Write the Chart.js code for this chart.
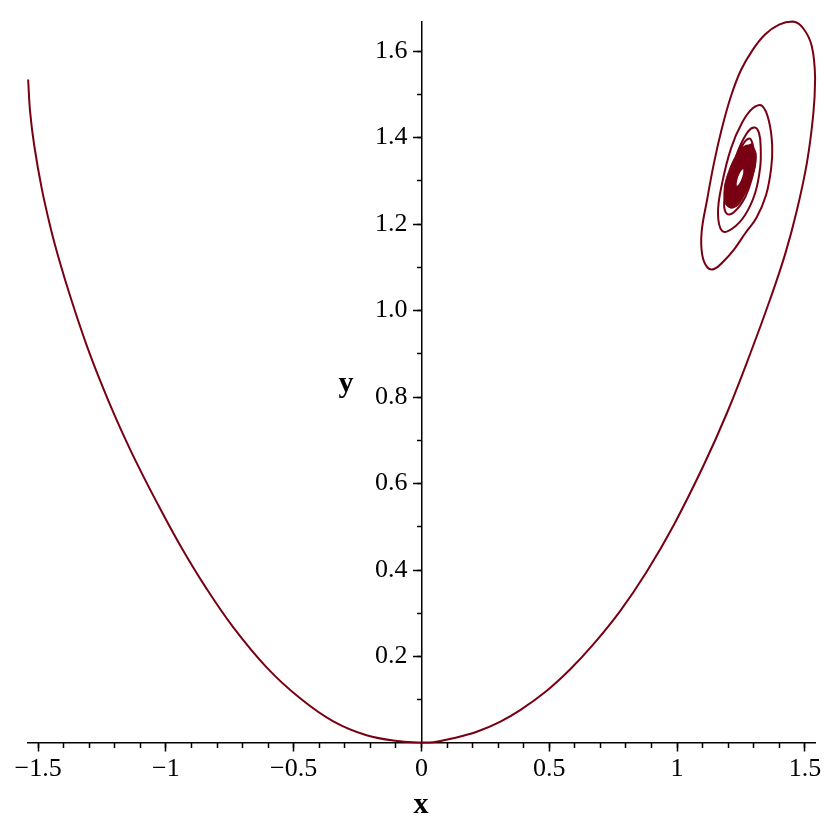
<!DOCTYPE html>
<html>
<head>
<title>x-y trajectory</title>
<script src="https://cdn.jsdelivr.net/npm/chart.js@4.4.1/dist/chart.umd.min.js"></script>
<style>
body { margin: 0; background: #fff; }
#wrap { position: relative; width: 830px; height: 830px; }
canvas { display: block; }
.axlabel {
    position: absolute;
    font: bold 30px "Liberation Serif", "Times New Roman", serif;
    line-height: 1;
    transform: translateX(-50%);
    color: #000;
}
</style>
</head>
<body>
<div id="wrap">
    <canvas id="plot" width="830" height="830"></canvas>
    <div class="axlabel" style="left:421px; top:788px;">x</div>
    <div class="axlabel" style="left:346px; top:367px;">y</div>
</div>
<script>
// curve: left branch down to the origin
const descentX = [-1.539, -1.531, -1.515, -1.486, -1.451, -1.416, -1.370, -1.312, -1.258, -1.198,
                  -1.128, -1.036, -0.945, -0.841, -0.737, -0.606, -0.476, -0.345, -0.215, -0.084];
const descentY = [1.534, 1.458, 1.381, 1.283, 1.191, 1.114, 1.025, 0.923, 0.839, 0.754,
                  0.664, 0.557, 0.458, 0.357, 0.268, 0.175, 0.104, 0.050, 0.018, 0.004];
// right branch climbing up to the outer loop
const ascentX = [0.000, 0.046, 0.124, 0.216, 0.307, 0.386, 0.490, 0.581, 0.672, 0.777, 0.881,
                 0.986, 1.103, 1.195, 1.286, 1.364, 1.423, 1.468, 1.508, 1.533, 1.540];
const ascentY = [0.001, 0.002, 0.011, 0.026, 0.049, 0.076, 0.121, 0.170, 0.228, 0.305, 0.396,
                 0.503, 0.641, 0.763, 0.900, 1.026, 1.131, 1.230, 1.342, 1.455, 1.536];
// spiral round the fixed point
const spiralX = [1.527, 1.494, 1.454, 1.399, 1.344, 1.294, 1.250, 1.211, 1.176, 1.145, 1.117, 1.096, 1.098, 1.118, 1.145, 1.182, 1.224, 1.266, 1.311, 1.348, 1.368,
                 1.372, 1.360, 1.333, 1.297, 1.254, 1.211, 1.176, 1.160, 1.176, 1.215, 1.266, 1.305, 1.325,
                 1.327, 1.321, 1.305, 1.278, 1.239, 1.204, 1.184, 1.196, 1.227, 1.266, 1.294, 1.305,
                 1.301, 1.286, 1.262, 1.227, 1.196, 1.207, 1.239, 1.270, 1.290,
                 1.294, 1.278, 1.247, 1.215, 1.204];
const spiralY = [1.611, 1.652, 1.668, 1.661, 1.638, 1.601, 1.556, 1.496, 1.423, 1.343, 1.255, 1.182, 1.130, 1.100, 1.096, 1.114, 1.142, 1.178, 1.215, 1.267, 1.329,
                 1.381, 1.436, 1.473, 1.468, 1.434, 1.375, 1.294, 1.226, 1.184, 1.189, 1.221, 1.271, 1.331,
                 1.377, 1.409, 1.423, 1.414, 1.370, 1.308, 1.249, 1.223, 1.230, 1.262, 1.308, 1.347,
                 1.368, 1.397, 1.388, 1.347, 1.271, 1.239, 1.246, 1.281, 1.326,
                 1.359, 1.381, 1.368, 1.317, 1.271];
// the tightly wound centre, drawn as a solid patch, and the little gap in its middle
const coreX = [1.292, 1.310, 1.291, 1.246, 1.201, 1.183, 1.202, 1.247, 1.292];
const coreY = [1.386, 1.358, 1.303, 1.254, 1.239, 1.268, 1.322, 1.371, 1.386];
const holeX = [1.2587, 1.2583, 1.2466, 1.2344, 1.2348, 1.2466, 1.2587];
const holeY = [1.3276, 1.3166, 1.2974, 1.2887, 1.2997, 1.3189, 1.3276];

const xMin = -1.5395, xMax = 1.5395, yMin = 0, yMax = 1.668;
const xMajorTicks = [-1.5, -1, -0.5, 0, 0.5, 1, 1.5];
const xTickLabels = ['\u22121.5', '\u22121', '\u22120.5', '0', '0.5', '1', '1.5'];
const xMinorTicks = [-1.5, -1.4, -1.3, -1.2, -1.1, -1, -0.9, -0.8, -0.7, -0.6, -0.5, -0.4, -0.3, -0.2, -0.1, 0,
                     0.1, 0.2, 0.3, 0.4, 0.5, 0.6, 0.7, 0.8, 0.9, 1, 1.1, 1.2, 1.3, 1.4, 1.5];
const yMajorTicks = [0.2, 0.4, 0.6, 0.8, 1.0, 1.2, 1.4, 1.6];
const yTickLabels = ['0.2', '0.4', '0.6', '0.8', '1.0', '1.2', '1.4', '1.6'];
const yMinorTicks = [0.1, 0.2, 0.3, 0.4, 0.5, 0.6, 0.7, 0.8, 0.9, 1.0, 1.1, 1.2, 1.3, 1.4, 1.5, 1.6];

const curveColor = '#780012';
const serif = '"Liberation Serif", "Times New Roman", serif';

function zip(xs, ys) {
    return xs.map((x, i) => ({x: x, y: ys[i]}));
}
const trajectory = zip(descentX, descentY).concat(zip(ascentX, ascentY), zip(spiralX, spiralY));

function tickMarks(len) {
    return {display: true, drawOnChartArea: false, drawTicks: true, tickLength: len, tickWidth: 1.5, tickColor: '#000'};
}

// x range is symmetric, so the y axis can sit at the 'center' of the plot (x = 0)
new Chart(document.getElementById('plot'), {
    type: 'line',
    data: {
        datasets: [
            {
                data: zip(holeX, holeY),
                fill: 'shape', backgroundColor: '#ffffff', borderWidth: 0,
                pointRadius: 0, tension: 0.4, clip: false, order: 0
            },
            {
                data: trajectory,
                borderColor: curveColor, borderWidth: 2, fill: false,
                pointRadius: 0, tension: 0.4, clip: false, order: 1
            },
            {
                data: zip(coreX, coreY),
                fill: 'shape', backgroundColor: curveColor, borderColor: curveColor, borderWidth: 1,
                pointRadius: 0, tension: 0.4, clip: false, order: 2
            }
        ]
    },
    options: {
        responsive: false,
        animation: false,
        layout: {padding: {left: 28, right: 15, top: 15, bottom: 87}},
        plugins: {legend: {display: false}, tooltip: {enabled: false}},
        scales: {
            x: {
                type: 'linear', min: xMin, max: xMax, position: {y: 0},
                afterBuildTicks: s => { s.ticks = xMajorTicks.map(v => ({value: v})); },
                afterFit: s => { s.height = 0; },
                grid: tickMarks(8),
                border: {display: true, color: '#000', width: 1.5},
                ticks: {color: '#000', font: {family: serif, size: 26}, padding: 3, maxRotation: 0, autoSkip: false,
                        callback: (v, i) => xTickLabels[i]}
            },
            xMinor: {
                type: 'linear', axis: 'x', min: xMin, max: xMax, position: {y: 0},
                afterBuildTicks: s => { s.ticks = xMinorTicks.map(v => ({value: v})); },
                afterFit: s => { s.height = 0; },
                grid: tickMarks(5),
                border: {display: false},
                ticks: {display: false}
            },
            y: {
                type: 'linear', min: yMin, max: yMax, position: 'center',
                afterBuildTicks: s => { s.ticks = yMajorTicks.map(v => ({value: v})); },
                afterFit: s => { s.width = 0; },
                grid: tickMarks(8),
                border: {display: true, color: '#000', width: 1.5},
                ticks: {color: '#000', font: {family: serif, size: 26}, padding: 6, autoSkip: false,
                        callback: (v, i) => yTickLabels[i]}
            },
            yMinor: {
                type: 'linear', axis: 'y', min: yMin, max: yMax, position: 'center',
                afterBuildTicks: s => { s.ticks = yMinorTicks.map(v => ({value: v})); },
                afterFit: s => { s.width = 0; },
                grid: tickMarks(5),
                border: {display: false},
                ticks: {display: false}
            }
        }
    }
});
</script>
</body>
</html>
